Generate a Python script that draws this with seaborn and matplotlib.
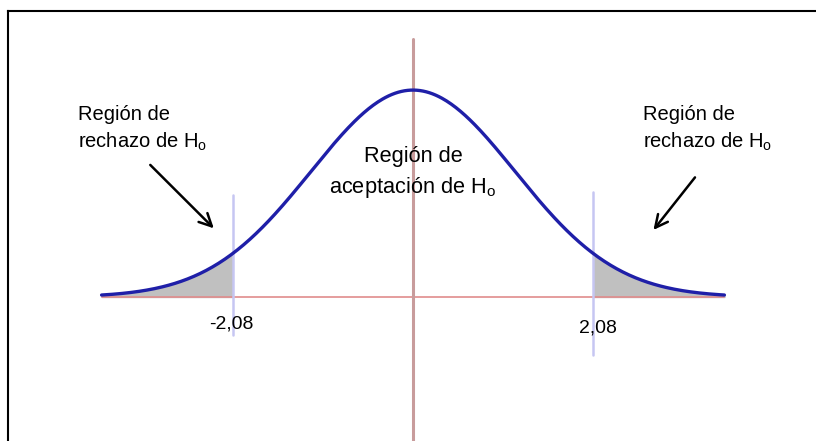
import numpy as np
import pandas as pd

import matplotlib.pyplot as plt
import seaborn as sns

# valores del grafico
valor_critico = 2.08
limite_z = 3.6
escala_curva = 1.18          # ancho con el que esta dibujada la campana
etiquetas_criticas = ["-2,08", "2,08"]
texto_rechazo = "Región de\nrechazo de H$_\\mathregular{o}$"
texto_aceptacion = "Región de\naceptación de H$_\\mathregular{o}$"

sns.set_style("white")
plt.rcParams["font.family"] = ["Liberation Sans", "DejaVu Sans"]
plt.rcParams["text.color"] = "black"

z = np.linspace(-limite_z, limite_z, 400)
densidad = np.exp(-0.5 * (z / escala_curva) ** 2) / (escala_curva * np.sqrt(2 * np.pi))
df = pd.DataFrame({"z": z, "densidad": densidad})

fig = plt.figure(figsize=(8.16, 4.41), dpi=100)
ax = fig.add_axes([8 / 816, 0, 808 / 816, 430 / 441])
ax.set_xlim(-4.682, 4.659)
ax.set_ylim(-0.2353, 0.4673)

# marco: solo borde superior e izquierdo
for lado in ["right", "bottom"]:
    ax.spines[lado].set_visible(False)
for lado in ["top", "left"]:
    ax.spines[lado].set_color("black")
    ax.spines[lado].set_linewidth(1.5)
ax.set_xticks([])
ax.set_yticks([])

# colas sombreadas (regiones de rechazo)
izq = df["z"] <= -valor_critico
der = df["z"] >= valor_critico
ax.fill_between(df["z"][izq], 0, df["densidad"][izq], color="#c0c0c0", zorder=1)
ax.fill_between(df["z"][der], 0, df["densidad"][der], color="#c0c0c0", zorder=1)

# ejes rojos
ax.plot([-limite_z, limite_z], [0, 0], color="#e08c8c", lw=1.2, zorder=2)
ax.plot([0, 0], [-0.2353, 0.4216], color="#c89c9c", lw=2.2, zorder=2)

# lineas de valor critico
ax.plot([-valor_critico, -valor_critico], [-0.062, 0.167], color="#c6c6f2", lw=1.8, zorder=3)
ax.plot([valor_critico, valor_critico], [-0.095, 0.172], color="#c6c6f2", lw=1.8, zorder=3)

# curva
sns.lineplot(data=df, x="z", y="densidad", ax=ax, color="#1f1fa8", lw=2.4, zorder=4)
ax.set_xlabel("")
ax.set_ylabel("")

# textos (va="baseline" se refiere a la ultima linea)
ax.text(-3.87, 0.2435, texto_rechazo, fontsize=14.5, ha="left", va="baseline", linespacing=1.42)
ax.text(2.66, 0.2435, texto_rechazo, fontsize=14.5, ha="left", va="baseline", linespacing=1.42)
ax.text(0, 0.170, texto_aceptacion, fontsize=15.7, ha="center", va="baseline", linespacing=1.42,
        multialignment="center")
ax.text(-2.10, -0.0507, etiquetas_criticas[0], fontsize=14, ha="center", va="baseline")
ax.text(2.14, -0.0588, etiquetas_criticas[1], fontsize=14, ha="center", va="baseline")

# flechas
estilo = dict(arrowstyle="->,head_length=0.9,head_width=0.45", color="black", lw=1.8)
ax.annotate("", xy=(-2.28, 0.109), xytext=(-3.06, 0.219), arrowprops=estilo)
ax.annotate("", xy=(2.76, 0.106), xytext=(3.28, 0.199), arrowprops=estilo)

fig.savefig("out.png", dpi=100)
